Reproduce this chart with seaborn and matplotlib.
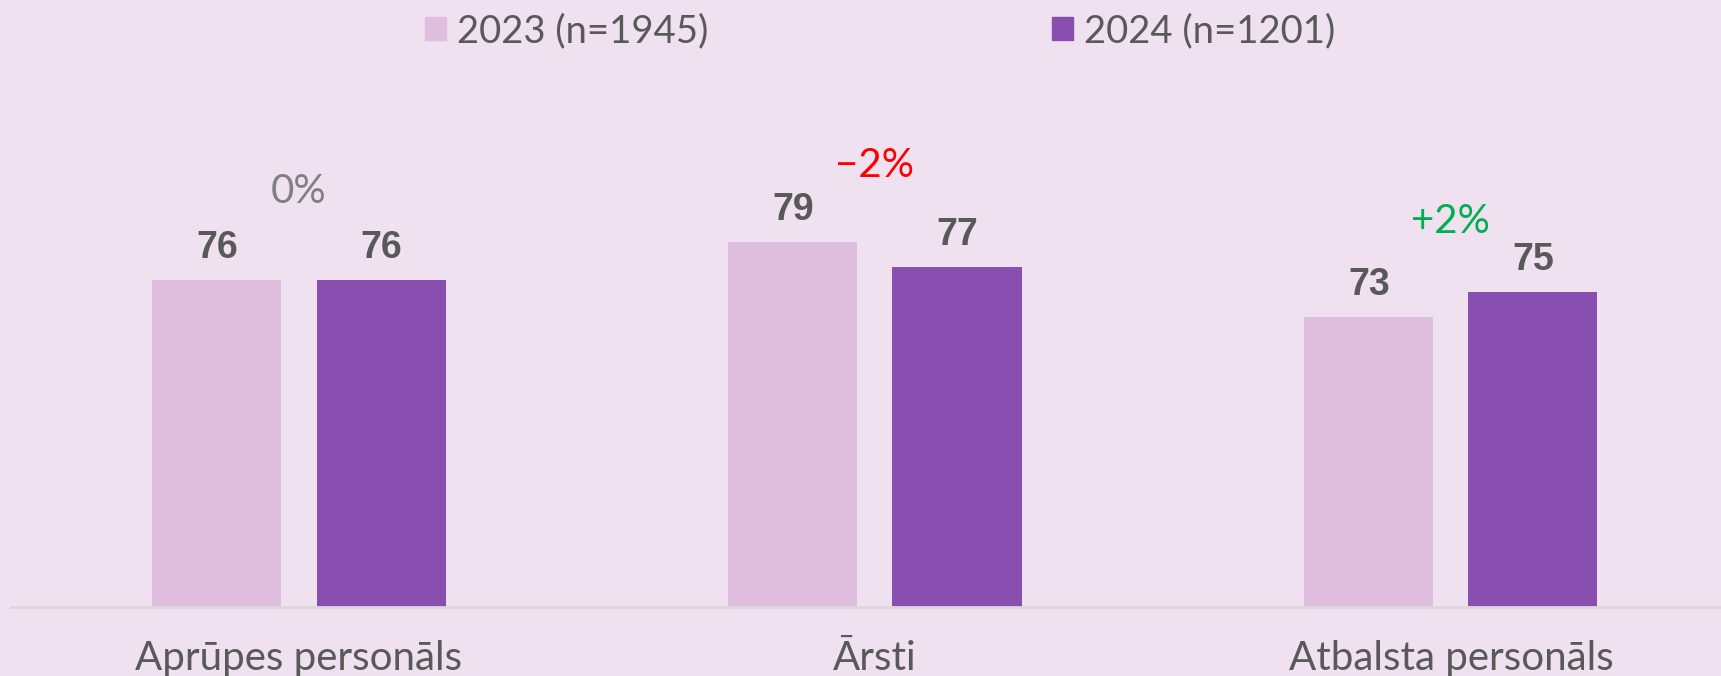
import pandas as pd
import matplotlib.pyplot as plt
import matplotlib.patches as mpatches
import seaborn as sns

# Chart data
categories = ["Aprūpes personāls", "Ārsti", "Atbalsta personāls"]
years = ["2023 (n=1945)", "2024 (n=1201)"]
values_2023 = [76, 79, 73]
values_2024 = [76, 77, 75]
changes = ["0%", "\u22122%", "+2%"]
change_colors = ["#808080", "#FF0000", "#00B050"]
change_y = [83, 85.1, 80.6]

bg = "#EFE1EF"
colors = {years[0]: "#DFBDDD", years[1]: "#884EB0"}
text_gray = "#595959"

df = pd.DataFrame({
    "category": categories * 2,
    "year": [years[0]] * 3 + [years[1]] * 3,
    "value": values_2023 + values_2024,
})

sns.set_theme(style="white")
plt.rcParams['font.family'] = ['Lato', 'DejaVu Sans']

fig = plt.figure(figsize=(17.21, 6.76), dpi=100, facecolor=bg)
ax = fig.add_axes([11 / 1721, 69.5 / 676, 1710 / 1721, 503 / 676])
ax.set_facecolor(bg)

sns.barplot(data=df, x="category", y="value", hue="year", palette=colors,
            width=0.57, gap=0.214, saturation=1, linewidth=0, legend=False, ax=ax)

ax.set_ylim(50, 90)
ax.set_xlim(-0.5, 2.469)

# value labels above bars
for cont in ax.containers:
    ax.bar_label(cont, padding=10, fontsize=27, fontweight='bold',
                 color=text_gray, family='Liberation Sans')

# year-over-year change above each group
for i, (txt, col) in enumerate(zip(changes, change_colors)):
    ax.text(i, change_y[i], txt, ha='center', va='center', fontsize=29, color=col)

for s in ["top", "right", "left"]:
    ax.spines[s].set_visible(False)
ax.spines["bottom"].set_color("#D9D9D9")
ax.spines["bottom"].set_linewidth(2)
ax.set_yticks([])
ax.set_xlabel("")
ax.set_ylabel("")
ax.tick_params(axis='x', length=0, pad=24, labelsize=29, labelcolor=text_gray)

handles = [mpatches.Patch(color=colors[y], label=y) for y in years]
fig.legend(handles=handles, loc='center', bbox_to_anchor=(880 / 1721, 1 - 31 / 676),
           ncol=2, frameon=False, fontsize=27.5, labelcolor=text_gray,
           handlelength=0.55, handleheight=0.57, handletextpad=0.29,
           columnspacing=9.0)

plt.savefig("out.png", dpi=100, facecolor=bg)
plt.close()
